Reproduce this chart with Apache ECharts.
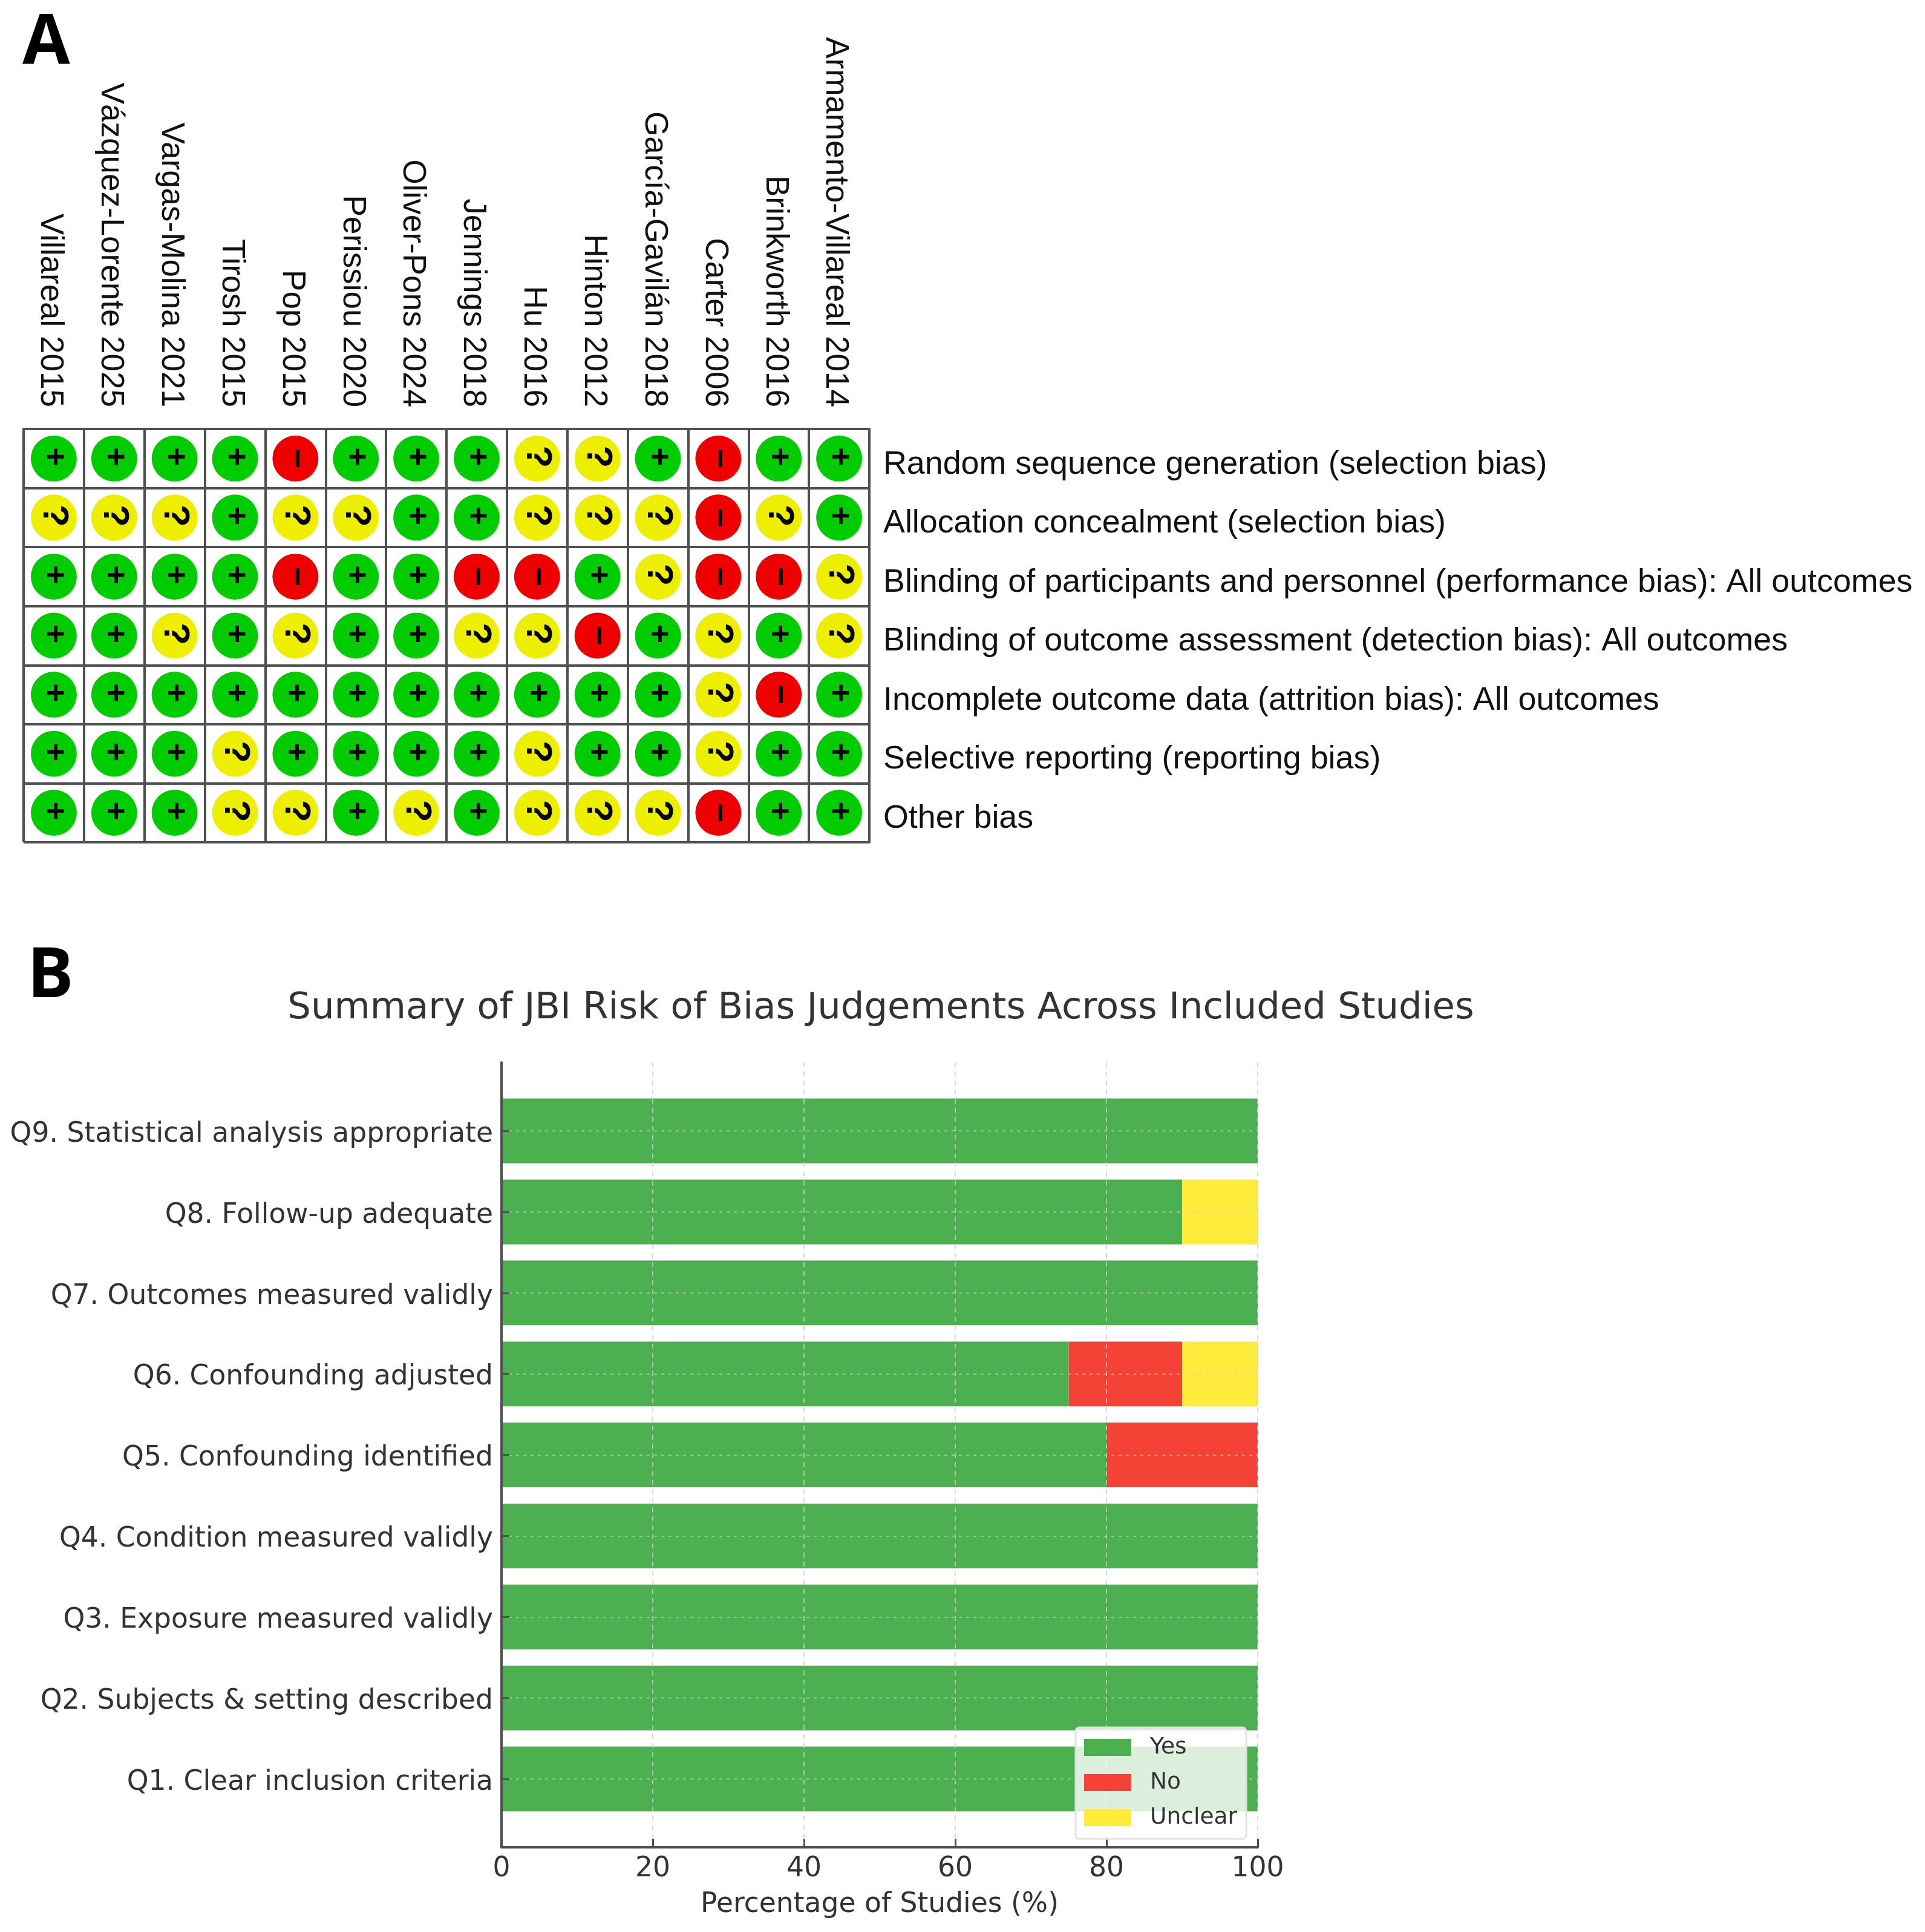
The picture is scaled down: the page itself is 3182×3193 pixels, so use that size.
<!DOCTYPE html>
<html><head><meta charset="utf-8">
<style>html,body{margin:0;padding:0;background:#fff}#c{width:3182px;height:3193px}</style>
<script src="https://cdn.jsdelivr.net/npm/echarts@6/dist/echarts.min.js"></script>
</head><body><div id="c"></div>
<script>
const studies = ['Villareal 2015','Vázquez-Lorente 2025','Vargas-Molina 2021','Tirosh 2015','Pop 2015','Perissiou 2020','Oliver-Pons 2024','Jennings 2018','Hu 2016','Hinton 2012','García-Gavilán 2018','Carter 2006','Brinkworth 2016','Armamento-Villareal 2014'];
const domains = ['Random sequence generation (selection bias)','Allocation concealment (selection bias)','Blinding of participants and personnel (performance bias): All outcomes','Blinding of outcome assessment (detection bias): All outcomes','Incomplete outcome data (attrition bias): All outcomes','Selective reporting (reporting bias)','Other bias'];
const judgements = [
 ['+','+','+','+','-','+','+','+','?','?','+','-','+','+'],
 ['?','?','?','+','?','?','+','+','?','?','?','-','?','+'],
 ['+','+','+','+','-','+','+','-','-','+','?','-','-','?'],
 ['+','+','?','+','?','+','+','?','?','-','+','?','+','?'],
 ['+','+','+','+','+','+','+','+','+','+','+','?','-','+'],
 ['+','+','+','?','+','+','+','+','?','+','+','?','+','+'],
 ['+','+','+','?','?','+','?','+','?','?','?','-','+','+']
];
const questions = ['Q1. Clear inclusion criteria','Q2. Subjects & setting described','Q3. Exposure measured validly','Q4. Condition measured validly','Q5. Confounding identified','Q6. Confounding adjusted','Q7. Outcomes measured validly','Q8. Follow-up adequate','Q9. Statistical analysis appropriate'];
const yesValues = [100,100,100,100,80,75,100,90,100];
const noValues = [0,0,0,0,20,15,0,0,0];
const unclearValues = [0,0,0,0,0,10,0,10,0];

const SANS = '"Liberation Sans"', DJ = '"DejaVu Sans"', TXT = '#333333', LINE = '#505050';
const mark = {'+':{c:'#00cc00',n:'Low risk',s:54,dx:-3,g:'+'},'-':{c:'#ee0000',n:'High risk',s:56,dx:0,g:'\u2212'},'?':{c:'#eeee00',n:'Unclear risk',s:60,dx:-3,g:'?'}};
const riskSeries = Object.keys(mark).map(k => {
  const data = [];
  judgements.forEach((row, r) => row.forEach((j, c) => { if (j === k) data.push([c, r]); }));
  return {
    type:'scatter', name:mark[k].n, xAxisIndex:0, yAxisIndex:0, data,
    symbol:'circle', symbolSize:76, itemStyle:{color:mark[k].c, opacity:1},
    label:{show:true, position:'inside', formatter:mark[k].g, color:'#000', fontFamily:SANS, fontWeight:'bold',
      fontSize:mark[k].s},
    labelLayout:{rotate:-90, dx:mark[k].dx}
  };
});
const barSeries = (name, vals, color) => ({
  type:'bar', name, stack:'jbi', xAxisIndex:2, yAxisIndex:2, data:vals, barWidth:107, clip:false,
  itemStyle:{color}, z:2
});

const option = {
  animation:false, backgroundColor:'#fff',
  title:[
    {text:'A', left:32, top:12, textStyle:{fontFamily:'"Open Sans"', fontWeight:'bold', fontSize:114, color:'#000'}},
    {text:'B', left:40, top:1554, textStyle:{fontFamily:'"Open Sans"', fontWeight:'bold', fontSize:114, color:'#000'}},
    {text:'Summary of JBI Risk of Bias Judgements Across Included Studies', left:1451, top:1632, textAlign:'center',
      textStyle:{fontFamily:DJ, fontWeight:'normal', fontSize:60.8, color:TXT}}
  ],
  legend:{
    data:['Yes','No','Unclear'], orient:'vertical', left:1778, top:2855, padding:[14,15,16,14],
    itemWidth:78, itemHeight:28, itemGap:20, icon:'rect', align:'left',
    backgroundColor:'rgba(255,255,255,0.8)', borderColor:'#e2e2e2', borderWidth:3, borderRadius:6,
    textStyle:{fontFamily:DJ, fontSize:37.6, color:TXT, padding:[0,0,0,26]}, z:6
  },
  grid:[
    {left:39, top:709, width:1398, height:683},
    {left:829, top:1756, width:1250, height:1297},
    {left:829, top:1869, width:1250, height:1071}
  ],
  xAxis:[
    {gridIndex:0, type:'category', data:studies, position:'top',
      axisLine:{show:true, lineStyle:{color:LINE,width:4}}, axisTick:{show:false},
      splitLine:{show:true, lineStyle:{color:LINE,width:4}},
      axisLabel:{interval:0, rotate:90, margin:36, fontFamily:SANS, fontSize:53, color:'#111', verticalAlign:'top', lineHeight:12}},
    {gridIndex:1, type:'value', min:0, max:100, interval:20, z:3,
      axisLine:{show:true, lineStyle:{color:LINE,width:4}},
      axisTick:{show:true, inside:true, length:14, lineStyle:{color:LINE,width:3}},
      splitLine:{show:true, lineStyle:{color:'rgba(205,205,205,0.75)', width:2, type:[8,7]}},
      axisLabel:{margin:13, fontFamily:DJ, fontSize:45.6, color:TXT},
      name:'Percentage of Studies (%)', nameLocation:'middle', nameGap:72,
      nameTextStyle:{fontFamily:DJ, fontSize:45.6, color:TXT}},
    {gridIndex:2, type:'value', min:0, max:100, show:false}
  ],
  yAxis:[
    {gridIndex:0, type:'category', data:domains, inverse:true, position:'right',
      axisLine:{show:true, lineStyle:{color:LINE,width:4}}, axisTick:{show:false},
      splitLine:{show:true, lineStyle:{color:LINE,width:4}},
      axisLabel:{interval:0, margin:23, fontFamily:SANS, fontSize:53.8, color:'#111', verticalAlign:'top', lineHeight:20}},
    {gridIndex:1, type:'value', min:0, max:1, interval:1,
      axisLine:{show:true, lineStyle:{color:LINE,width:4}}, axisTick:{show:false},
      axisLabel:{show:false}, splitLine:{show:false}, z:3},
    {gridIndex:2, type:'category', data:questions, boundaryGap:false, z:3,
      axisLine:{show:false},
      axisTick:{show:true, inside:true, length:13, lineStyle:{color:LINE,width:3}},
      splitLine:{show:true, lineStyle:{color:'rgba(205,205,205,0.6)', width:2, type:[5,7]}},
      axisLabel:{interval:0, margin:14, fontFamily:DJ, fontSize:45.6, color:TXT, verticalAlign:'top', lineHeight:12}}
  ],
  series:[...riskSeries,
    barSeries('Yes', yesValues, '#4caf50'),
    barSeries('No', noValues, '#f44336'),
    barSeries('Unclear', unclearValues, '#ffeb3b')]
};
echarts.init(document.getElementById('c'), null, {renderer:'canvas'}).setOption(option);
</script></body></html>
